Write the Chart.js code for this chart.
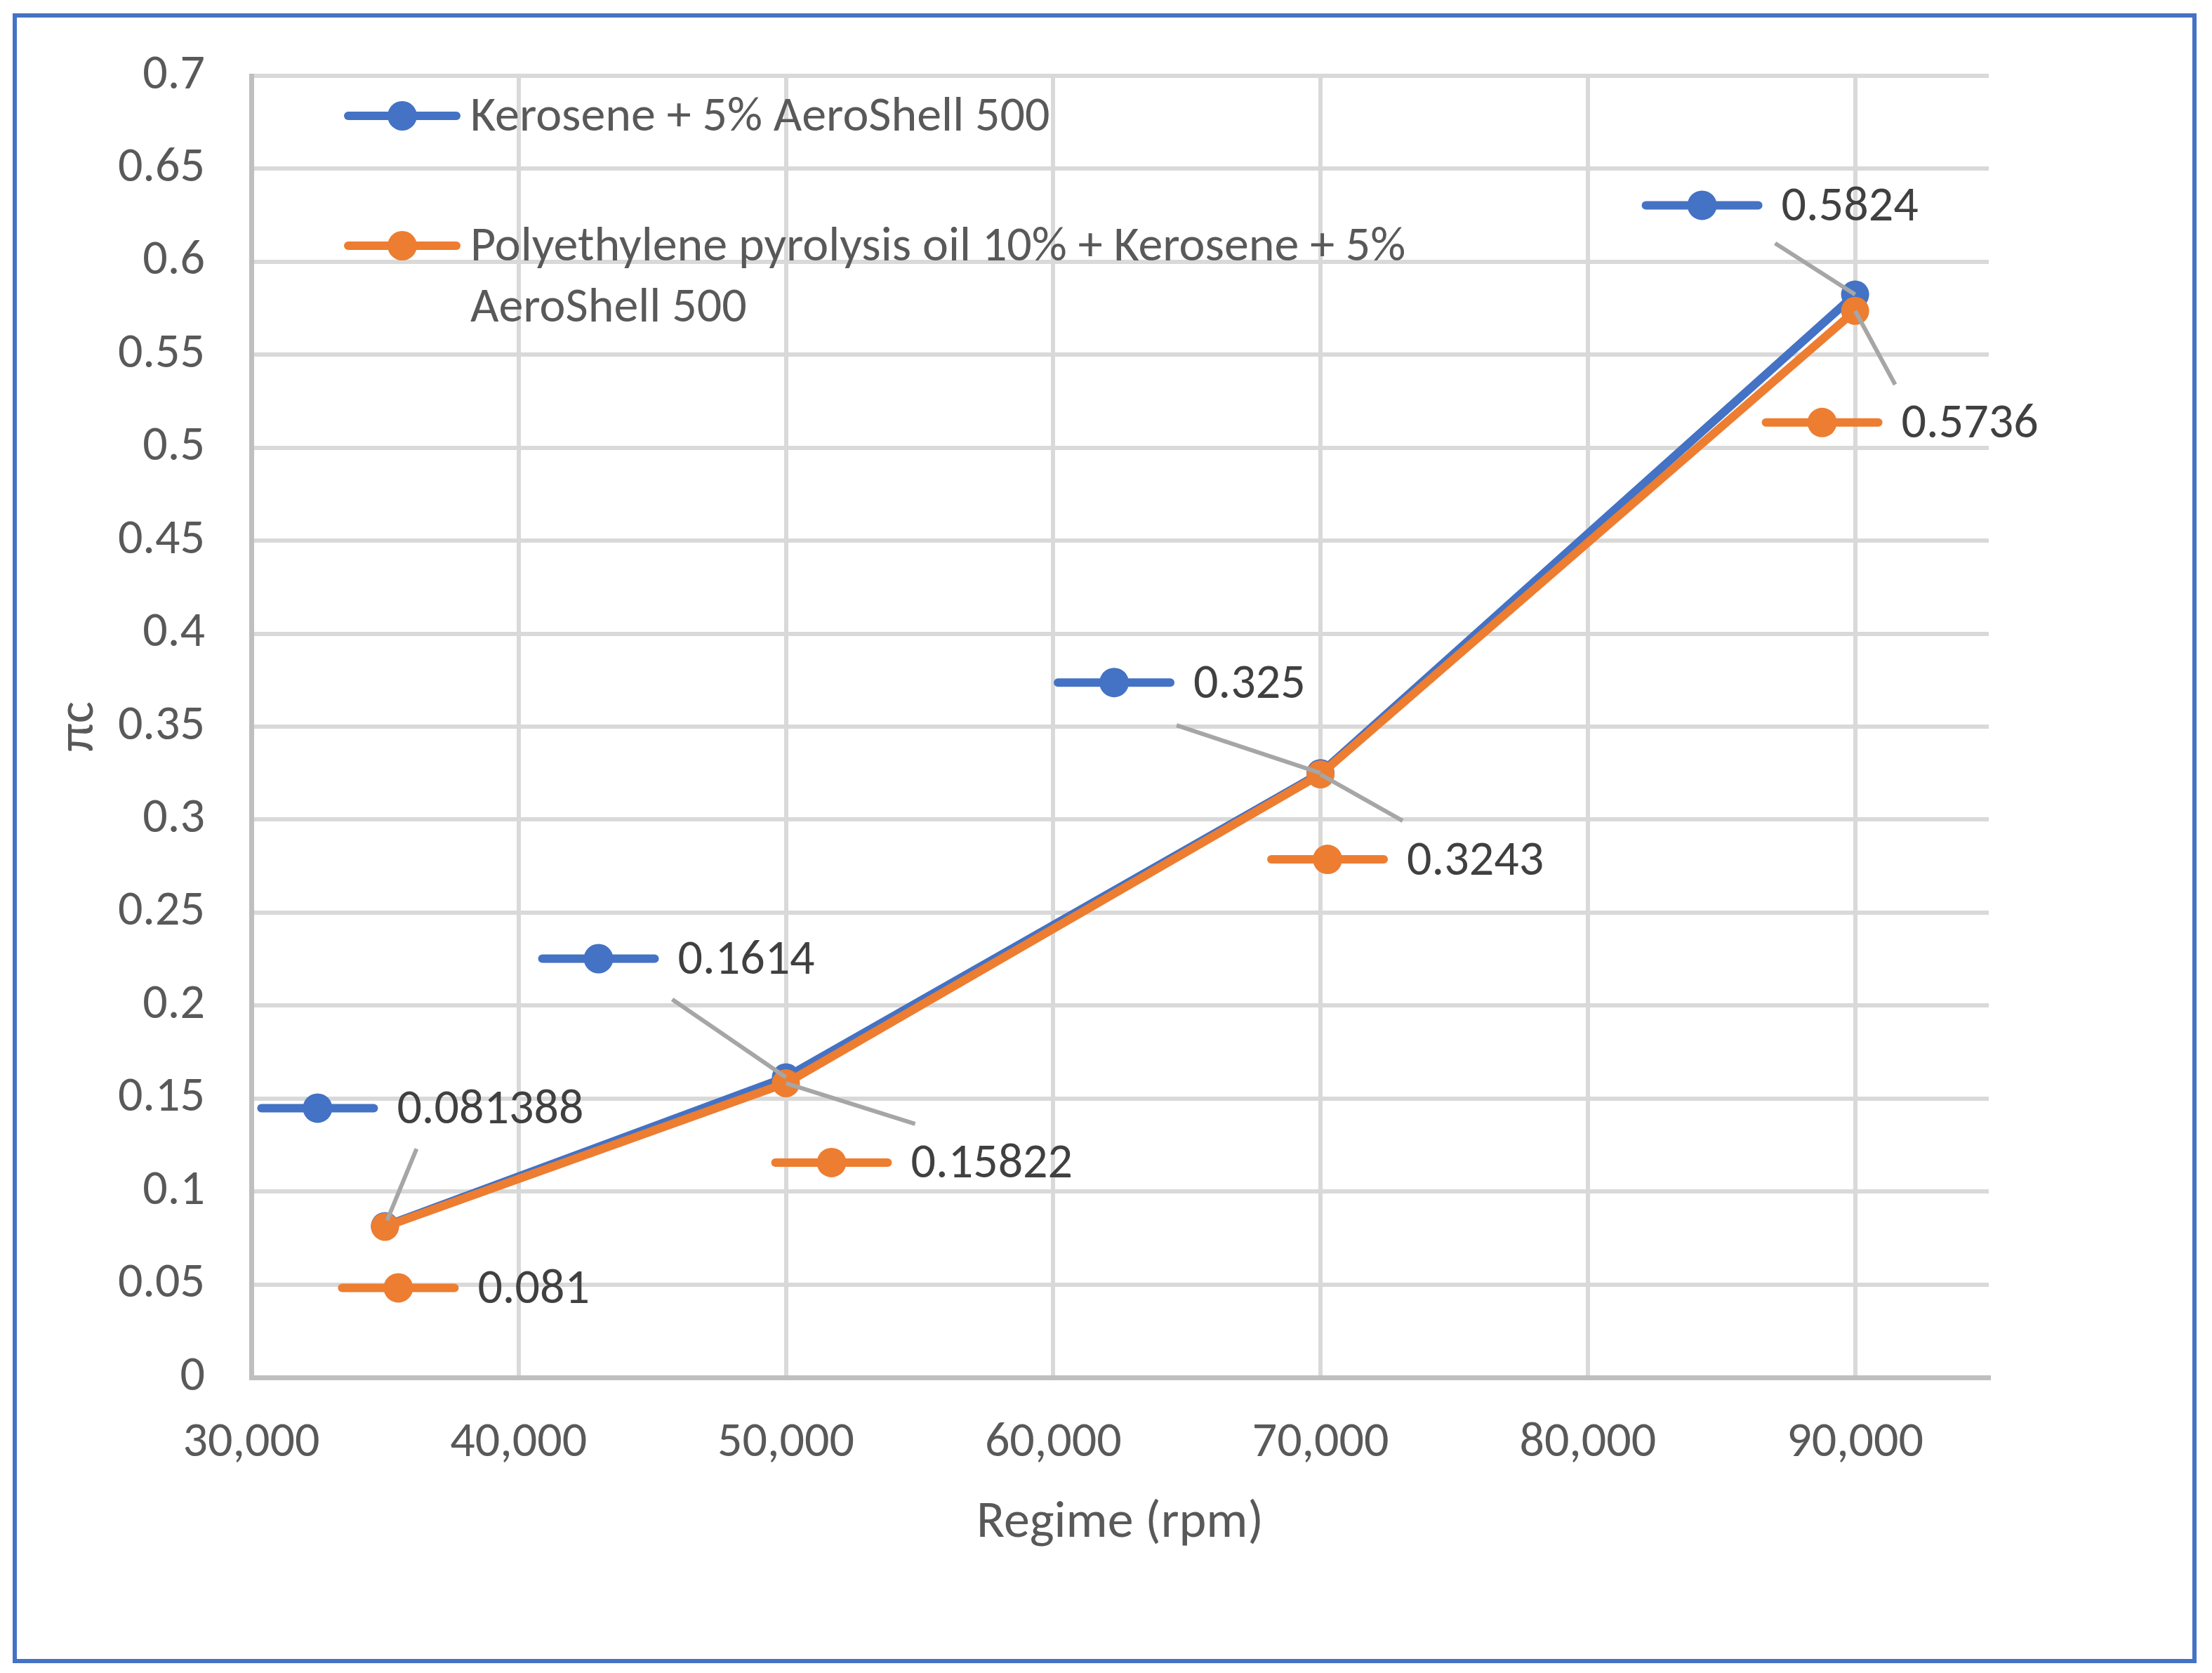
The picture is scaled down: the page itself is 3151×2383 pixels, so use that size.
<!DOCTYPE html>
<html><head><meta charset="utf-8">
<script src="https://cdn.jsdelivr.net/npm/chart.js@4.4.1/dist/chart.umd.min.js"></script>
<style>html,body{margin:0;padding:0;background:#fff;} canvas{display:block;}</style>
</head><body>
<canvas id="c" width="3151" height="2383"></canvas>
<script>
// ---- data ----
const regimeRpm = [35000, 50000, 70000, 90000];
const keroseneValues = [0.081388, 0.1614, 0.325, 0.5824];
const pyrolysisValues = [0.081, 0.15822, 0.3243, 0.5736];
const seriesNames = ['Kerosene + 5% AeroShell 500', 'Polyethylene pyrolysis oil 10% + Kerosene + 5% AeroShell 500'];
const legendLines = [['Kerosene + 5% AeroShell 500'], ['Polyethylene pyrolysis oil 10% + Kerosene + 5%', 'AeroShell 500']];
const xTickValues = [30000, 40000, 50000, 60000, 70000, 80000, 90000];
const xTickLabels = ['30,000', '40,000', '50,000', '60,000', '70,000', '80,000', '90,000'];
const yTickValues = [0, 0.05, 0.1, 0.15, 0.2, 0.25, 0.3, 0.35, 0.4, 0.45, 0.5, 0.55, 0.6, 0.65, 0.7];
const yTickLabels = ['0', '0.05', '0.1', '0.15', '0.2', '0.25', '0.3', '0.35', '0.4', '0.45', '0.5', '0.55', '0.6', '0.65', '0.7'];
const xTitle = 'Regime (rpm)';
const yTitle = 'πc';

// ---- style / layout ----
const FONT = "Carlito, 'Liberation Sans Narrow', Lato, sans-serif";
const COLORS = ['#4472C4', '#ED7D31'];
// data label placement relative to its point (px): key centre (dx,dy), leader start (lx,ly)
const labelLayout = [
  [{dx:-96,dy:-168,lx:45,ly:-110,ex:3,ey:-8},{dx:-267,dy:-169,lx:-162,ly:-111},{dx:-294,dy:-129,lx:-205,ly:-68},{dx:-218,dy:-127,lx:-114,ly:-73}],
  [{dx:19,dy:87},{dx:65,dy:113,lx:184,ly:58},{dx:10,dy:121,lx:117,ly:66},{dx:-47,dy:159,lx:57,ly:105}]
];

function toPoints(xs, ys){ return xs.map((x,i)=>({x:x, y:ys[i]})); }

function drawKey(ctx, cx, cy, color, half){
  ctx.save();
  ctx.strokeStyle = color; ctx.lineWidth = 12; ctx.lineCap = 'round';
  ctx.beginPath(); ctx.moveTo(cx-half, cy); ctx.lineTo(cx+half, cy); ctx.stroke();
  ctx.fillStyle = color;
  ctx.beginPath(); ctx.arc(cx, cy, 21, 0, Math.PI*2); ctx.fill();
  ctx.restore();
}

const decoPlugin = {
  id: 'deco',
  beforeDraw(chart){
    const ctx = chart.ctx;
    ctx.save(); ctx.fillStyle = '#fff'; ctx.fillRect(0,0,chart.width,chart.height); ctx.restore();
  },
  afterDatasetsDraw(chart){
    const ctx = chart.ctx;
    const xs = chart.scales.x, ys = chart.scales.y;
    const series = [keroseneValues, pyrolysisValues];
    ctx.save();
    ctx.strokeStyle = '#A6A6A6'; ctx.lineWidth = 6;
    series.forEach((vals, s) => {
      vals.forEach((v, i) => {
        const L = labelLayout[s][i];
        if (L.lx === undefined) return;
        const px = xs.getPixelForValue(regimeRpm[i]), py = ys.getPixelForValue(v);
        ctx.beginPath();
        ctx.moveTo(px + L.lx, py + L.ly);
        ctx.lineTo(px + (L.ex||0), py + (L.ey||0));
        ctx.stroke();
      });
    });
    ctx.restore();
    ctx.save();
    ctx.font = '70px ' + FONT;
    ctx.textBaseline = 'middle'; ctx.textAlign = 'left';
    series.forEach((vals, s) => {
      vals.forEach((v, i) => {
        const L = labelLayout[s][i];
        const px = xs.getPixelForValue(regimeRpm[i]), py = ys.getPixelForValue(v);
        const kx = px + L.dx, ky = py + L.dy;
        drawKey(ctx, kx, ky, COLORS[s], 80);
        ctx.fillStyle = '#404040';
        ctx.fillText(String(v), kx + 113, ky + 4);
      });
    });
    ctx.restore();
  },
  afterDraw(chart){
    const ctx = chart.ctx;
    ctx.save();
    ctx.font = '70px ' + FONT;
    ctx.textBaseline = 'middle'; ctx.textAlign = 'left';
    const keyX = 573, rows = [165, 350], lineGap = 87;
    legendLines.forEach((lines, s) => {
      drawKey(ctx, keyX, rows[s], COLORS[s], 77);
      ctx.fillStyle = '#595959';
      lines.forEach((t, j) => ctx.fillText(t, keyX + 97, rows[s] + 3 + j*lineGap));
    });
    ctx.restore();
    ctx.save();
    ctx.strokeStyle = '#4472C4'; ctx.lineWidth = 6;
    ctx.strokeRect(21, 22, 3105, 2344);
    ctx.restore();
  }
};

new Chart(document.getElementById('c'), {
  type: 'line',
  data: {
    datasets: [
      { label: seriesNames[0], data: toPoints(regimeRpm, keroseneValues), borderColor: COLORS[0], backgroundColor: COLORS[0],
        borderWidth: 12, pointRadius: 20, pointBorderWidth: 0, tension: 0, borderJoinStyle:'round', borderCapStyle:'round', order: 1 },
      { label: seriesNames[1], data: toPoints(regimeRpm, pyrolysisValues), borderColor: COLORS[1], backgroundColor: COLORS[1],
        borderWidth: 12, pointRadius: 20, pointBorderWidth: 0, tension: 0, borderJoinStyle:'round', borderCapStyle:'round', order: 0 }
    ]
  },
  options: {
    responsive: false, animation: false, devicePixelRatio: 1,
    layout: { padding: { left: 0, top: 103, right: 318, bottom: 0 } },
    plugins: { legend: { display: false }, tooltip: { enabled: false } },
    scales: {
      x: {
        type: 'linear', min: 30000, max: 95000,
        afterBuildTicks: s => { s.ticks = xTickValues.map(v => ({ value: v })); },
        afterFit: s => { s.height = 421; },
        ticks: { padding: 52, color: '#595959', font: { family: FONT, size: 70 }, maxRotation: 0, minRotation: 0, autoSkip: false,
                 callback: (v) => { const k = xTickValues.indexOf(v); return k >= 0 ? xTickLabels[k] : ''; } },
        grid: { color: '#D9D9D9', lineWidth: 6, drawTicks: false },
        border: { color: '#BFBFBF', width: 7 },
        title: { display: true, text: xTitle, color: '#595959', font: { family: FONT, size: 74 }, padding: { top: 0, bottom: 168 } }
      },
      y: {
        min: 0, max: 0.7,
        afterBuildTicks: s => { s.ticks = yTickValues.map(v => ({ value: v })); },
        afterFit: s => { s.width = 358; },
        ticks: { padding: 66, color: '#595959', font: { family: FONT, size: 70 }, autoSkip: false,
                 callback: (v) => { const k = yTickValues.indexOf(v); return k >= 0 ? yTickLabels[k] : ''; } },
        grid: { color: '#D9D9D9', lineWidth: 6, drawTicks: false },
        border: { color: '#BFBFBF', width: 7 },
        title: { display: true, text: yTitle, color: '#595959', font: { family: FONT, size: 74 }, padding: { top: 69, bottom: 0 } }
      }
    }
  },
  plugins: [decoPlugin]
});
</script>
</body></html>
